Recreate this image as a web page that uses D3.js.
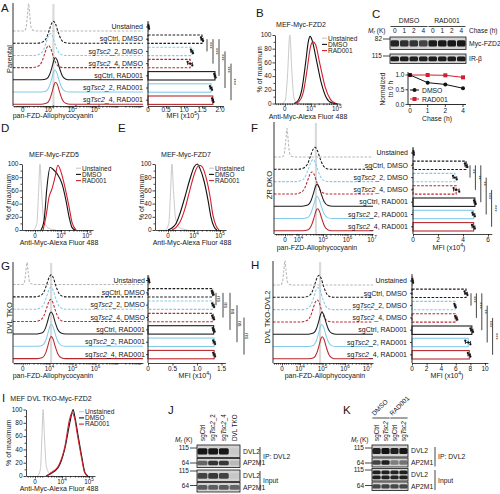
<!DOCTYPE html>
<html><head><meta charset="utf-8">
<script src="https://cdn.jsdelivr.net/npm/d3@7/dist/d3.min.js"></script>
<style>html,body{margin:0;padding:0;background:#fff}svg{display:block}</style>
</head><body><script>
// ================= DATA =================
const rowLabels=["Unstained","sgCtrl, DMSO","sgTsc2_2, DMSO","sgTsc2_4, DMSO","sgCtrl, RAD001","sgTsc2_2, RAD001","sgTsc2_4, RAD001"];
const legendLabels=["Unstained","DMSO","RAD001"];

// stacked flow histograms: [display position (decades), fraction of row peak]
const histA=[
 [[2.90,0],[2.98,0.12],[3.04,0.58],[3.09,1],[3.14,0.58],[3.20,0.12],[3.30,0.02],[3.45,0]],
 [[3.47,0],[3.71,0.06],[3.87,0.25],[3.99,0.6],[4.09,0.9],[4.17,1],[4.26,0.88],[4.37,0.52],[4.50,0.18],[4.66,0.03],[4.83,0]],
 [[3.34,0],[3.58,0.06],[3.74,0.25],[3.86,0.6],[3.96,0.9],[4.04,1],[4.13,0.88],[4.24,0.52],[4.37,0.18],[4.53,0.03],[4.70,0]],
 [[3.26,0],[3.50,0.06],[3.66,0.25],[3.78,0.6],[3.88,0.9],[3.96,1],[4.05,0.88],[4.16,0.52],[4.29,0.18],[4.45,0.03],[4.62,0]],
 [[3.65,0],[3.88,0.05],[4.01,0.25],[4.12,0.62],[4.20,0.92],[4.26,1],[4.33,0.9],[4.43,0.55],[4.55,0.2],[4.69,0.04],[4.89,0]],
 [[3.63,0],[3.86,0.05],[3.99,0.25],[4.10,0.62],[4.18,0.92],[4.24,1],[4.31,0.9],[4.41,0.55],[4.53,0.2],[4.67,0.04],[4.87,0]],
 [[3.66,0],[3.89,0.05],[4.02,0.25],[4.13,0.62],[4.21,0.92],[4.27,1],[4.34,0.9],[4.44,0.55],[4.56,0.2],[4.70,0.04],[4.90,0]]
];
const histF=[
 [[3.34,0],[3.42,0.12],[3.48,0.58],[3.53,1],[3.58,0.58],[3.64,0.12],[3.74,0.02],[3.89,0]],
 [[3.97,0],[4.21,0.06],[4.37,0.25],[4.49,0.6],[4.59,0.9],[4.67,1],[4.76,0.88],[4.87,0.52],[5.00,0.18],[5.16,0.03],[5.33,0]],
 [[3.89,0],[4.13,0.06],[4.29,0.25],[4.41,0.6],[4.51,0.9],[4.59,1],[4.68,0.88],[4.79,0.52],[4.92,0.18],[5.08,0.03],[5.25,0]],
 [[3.85,0],[4.09,0.06],[4.25,0.25],[4.37,0.6],[4.47,0.9],[4.55,1],[4.64,0.88],[4.75,0.52],[4.88,0.18],[5.04,0.03],[5.21,0]],
 [[4.15,0],[4.38,0.05],[4.51,0.25],[4.62,0.62],[4.70,0.92],[4.76,1],[4.83,0.9],[4.93,0.55],[5.05,0.2],[5.19,0.04],[5.39,0]],
 [[4.15,0],[4.38,0.05],[4.51,0.25],[4.62,0.62],[4.70,0.92],[4.76,1],[4.83,0.9],[4.93,0.55],[5.05,0.2],[5.19,0.04],[5.39,0]],
 [[4.17,0],[4.40,0.05],[4.53,0.25],[4.64,0.62],[4.72,0.92],[4.78,1],[4.85,0.9],[4.95,0.55],[5.07,0.2],[5.21,0.04],[5.41,0]]
];
const histG=[
 [[2.83,0],[2.91,0.12],[2.97,0.58],[3.02,1],[3.07,0.58],[3.13,0.12],[3.23,0.02],[3.38,0]],
 [[3.37,0],[3.61,0.06],[3.77,0.25],[3.89,0.6],[3.99,0.9],[4.07,1],[4.16,0.88],[4.27,0.52],[4.40,0.18],[4.56,0.03],[4.73,0]],
 [[3.36,0],[3.60,0.06],[3.76,0.25],[3.88,0.6],[3.98,0.9],[4.06,1],[4.15,0.88],[4.26,0.52],[4.39,0.18],[4.55,0.03],[4.72,0]],
 [[3.35,0],[3.59,0.06],[3.75,0.25],[3.87,0.6],[3.97,0.9],[4.05,1],[4.14,0.88],[4.25,0.52],[4.38,0.18],[4.54,0.03],[4.71,0]],
 [[3.46,0],[3.69,0.05],[3.82,0.25],[3.93,0.62],[4.01,0.92],[4.07,1],[4.14,0.9],[4.24,0.55],[4.36,0.2],[4.50,0.04],[4.70,0]],
 [[3.47,0],[3.70,0.05],[3.83,0.25],[3.94,0.62],[4.02,0.92],[4.08,1],[4.15,0.9],[4.25,0.55],[4.37,0.2],[4.51,0.04],[4.71,0]],
 [[3.47,0],[3.70,0.05],[3.83,0.25],[3.94,0.62],[4.02,0.92],[4.08,1],[4.15,0.9],[4.25,0.55],[4.37,0.2],[4.51,0.04],[4.71,0]]
];
const histH=[
 [[3.14,0],[3.22,0.12],[3.28,0.58],[3.33,1],[3.38,0.58],[3.44,0.12],[3.54,0.02],[3.69,0]],
 [[4.14,0],[4.38,0.06],[4.54,0.25],[4.66,0.6],[4.76,0.9],[4.84,1],[4.93,0.88],[5.04,0.52],[5.17,0.18],[5.33,0.03],[5.50,0]],
 [[4.10,0],[4.34,0.06],[4.50,0.25],[4.62,0.6],[4.72,0.9],[4.80,1],[4.89,0.88],[5.00,0.52],[5.13,0.18],[5.29,0.03],[5.46,0]],
 [[4.06,0],[4.30,0.06],[4.46,0.25],[4.58,0.6],[4.68,0.9],[4.76,1],[4.85,0.88],[4.96,0.52],[5.09,0.18],[5.25,0.03],[5.42,0]],
 [[4.37,0],[4.60,0.05],[4.73,0.25],[4.84,0.62],[4.92,0.92],[4.98,1],[5.05,0.9],[5.15,0.55],[5.27,0.2],[5.41,0.04],[5.61,0]],
 [[4.36,0],[4.59,0.05],[4.72,0.25],[4.83,0.62],[4.91,0.92],[4.97,1],[5.04,0.9],[5.14,0.55],[5.26,0.2],[5.40,0.04],[5.60,0]],
 [[4.38,0],[4.61,0.05],[4.74,0.25],[4.85,0.62],[4.93,0.92],[4.99,1],[5.06,0.9],[5.16,0.55],[5.28,0.2],[5.42,0.04],[5.62,0]]
];
const refPeakA=4.17, refPeakF=4.71, refPeakG=4.07, refPeakH=4.89;

// overlay histograms (% of maximum)
const ovB=[
 [[2.90,0],[3.02,5],[3.10,40],[3.19,100],[3.27,45],[3.35,8],[3.45,1],[3.60,0]],
 [[3.35,0],[3.50,4],[3.65,20],[3.80,60],[3.90,90],[3.97,98],[4.05,92],[4.20,66],[4.40,30],[4.60,8],[4.80,1],[5.00,0]],
 [[3.40,0],[3.55,3],[3.70,15],[3.85,48],[3.98,82],[4.08,90],[4.18,86],[4.35,57],[4.55,24],[4.75,6],[4.95,0]]
];
const ovD=[
 [[2.95,0],[3.07,10],[3.14,60],[3.19,100],[3.25,60],[3.33,18],[3.45,5],[3.65,1],[3.80,0]],
 [[3.23,0],[3.35,15],[3.46,65],[3.58,95],[3.69,92],[3.85,85],[4.04,70],[4.19,45],[4.31,20],[4.42,4],[4.54,0]],
 [[3.31,0],[3.42,20],[3.54,50],[3.65,62],[3.77,80],[3.88,98],[4.00,88],[4.15,65],[4.31,35],[4.42,12],[4.58,0]]
];
const ovE=[
 [[2.91,0],[3.03,10],[3.10,60],[3.15,100],[3.21,60],[3.29,18],[3.41,5],[3.60,1],[3.75,0]],
 [[3.00,0],[3.15,3],[3.31,10],[3.46,25],[3.65,50],[3.85,78],[4.00,95],[4.12,100],[4.23,93],[4.38,75],[4.54,45],[4.65,20],[4.77,5],[4.88,0]],
 [[3.15,0],[3.31,4],[3.46,12],[3.65,32],[3.85,62],[4.04,88],[4.19,98],[4.31,96],[4.46,80],[4.62,50],[4.73,22],[4.85,6],[4.96,0]]
];
const ovI=[
 [[3.10,0],[3.20,10],[3.26,60],[3.30,100],[3.35,60],[3.42,15],[3.55,3],[3.70,0]],
 [[3.41,0],[3.56,3],[3.85,12],[4.11,42],[4.30,82],[4.41,100],[4.48,88],[4.59,62],[4.74,27],[4.85,5],[4.96,0]],
 [[3.41,0],[3.56,4],[3.85,14],[4.11,45],[4.28,85],[4.37,95],[4.46,88],[4.57,62],[4.72,28],[4.83,6],[4.95,0]]
];

// flow axis tick labels
const flowTicksA=[{u:2.83,t:"0"},{u:4,t:"10",e:"4"},{u:5,t:"10",e:"5"},{u:6,t:"10",e:"6"}];
const flowTicksF=[{u:3.45,t:"0"},{u:4,t:"10",e:"4"},{u:5,t:"10",e:"5"},{u:6,t:"10",e:"6"},{u:7,t:"10",e:"7"}];
const flowTicksH=[{u:3.2,t:"0"},{u:4,t:"10",e:"4"},{u:5,t:"10",e:"5"},{u:6,t:"10",e:"6"},{u:7,t:"10",e:"7"}];
const flowTicksOv=[{u:3.0,t:"0"},{u:4,t:"10",e:"4"},{u:5,t:"10",e:"5"}];
const pctTicks=[0,20,40,60,80,100];

// MFI bar charts
const barA=[0.02,1.50,1.22,1.17,1.86,1.75,1.80];
const repA=[[0.01,0.02,0.03],[1.47,1.50,1.53],[1.19,1.22,1.25],[1.10,1.17,1.23],[1.84,1.86,1.88],[1.72,1.75,1.78],[1.78,1.80,1.82]];
const barF=[0.05,4.25,3.35,3.45,4.95,4.85,4.85];
const repF=[[0.03,0.05,0.07],[4.15,4.25,4.35],[3.2,3.35,3.5],[3.25,3.45,3.7],[4.88,4.95,5.02],[4.75,4.85,4.95],[4.72,4.85,4.95]];
const barG=[0.02,1.32,1.33,1.33,1.34,1.35,1.35];
const repG=[[0.01,0.02,0.03],[1.30,1.32,1.34],[1.31,1.33,1.35],[1.31,1.33,1.35],[1.32,1.34,1.36],[1.33,1.35,1.37],[1.33,1.35,1.37]];
const barH=[0.1,7.4,5.9,6.05,8.2,7.7,7.85];
const repH=[[0.05,0.1,0.15],[7.2,7.4,7.6],[5.8,5.9,6.0],[5.9,6.05,6.2],[8.0,8.2,8.35],[7.3,7.7,8.0],[7.65,7.85,8.0]];
const mfiTicksA=[0,0.5,1.0,1.5,2.0], mfiTicksF=[0,2,4,6], mfiTicksG=[0,0.5,1.0,1.5], mfiTicksH=[0,2,4,6,8,10];
const sigPairs=[[1,2],[1,3],[1,4],[2,5],[3,6]];
const sigA=["***","***","***","***","***"];
const sigF=["**","**","**","***","***"];
const sigG=["ns","ns","ns","ns","ns"];
const sigH=["***","***","**","***","***"];

// C: chase
const chaseTimes=["0","1","2","4"];
const normDMSO=[1.0,0.74,0.68,0.55];
const normRAD=[1.0,1.0,0.99,0.92];
const normTicks=[0,0.5,1.0];
const laneC=["0","1","2","4","0","1","2","4"];
const blotC=[[0.88,0.82,0.8,0.72,0.92,0.93,0.94,0.94],[0.92,0.92,0.9,0.9,0.92,0.92,0.92,0.92]];
const blotCLabels=["Myc-FZD2","IR-\u03b2"], mwC=["82","115"];

// J, K: co-IP blots
const laneJ=["sgCtrl","sgTsc2_2","sgTsc2_4","DVL TKO"];
const blotJ=[[0.95,0.95,0.95,0.04],[0.55,0.8,0.78,0.12],[0.72,0.78,0.72,0.05],[0.6,0.58,0.6,0.55]];
const laneK=["sgCtrl","sgTsc2","sgCtrl","sgTsc2"];
const blotK=[[0.9,0.97,0.9,0.95],[0.72,0.9,0.42,0.48],[0.9,0.9,0.88,0.9],[0.7,0.72,0.7,0.7]];
const stripLabels=["DVL2","AP2M1","DVL2","AP2M1"], mwJK=["115","64","115","64"];

// ================= DRAWING =================
const FONT="'Liberation Sans', Arial, Helvetica, sans-serif";
const INK="#161616";
const rowColor=["#b8b8b8","#1c1c1c","#84cbea","#b9282e","#1c1c1c","#84cbea","#b9282e"];
const rowDash=[true,true,true,true,false,false,false];
const ovColor=["#c9c9c9","#111","#d0202f"];

const svg=d3.select("body").append("svg").attr("width",500).attr("height",494).attr("font-family",FONT);
svg.append("rect").attr("width",500).attr("height",494).attr("fill","#fff");
svg.append("defs").append("filter").attr("id","bl").attr("x","-30%").attr("y","-80%").attr("width","160%").attr("height","260%")
  .append("feGaussianBlur").attr("stdDeviation",0.6);

function T(g,x,y,s,o={}){
  const t=g.append("text").attr("x",x).attr("y",y).attr("font-size",o.size||7).attr("fill",o.fill||INK).attr("text-anchor",o.anchor||"start");
  if(o.rot!=null) t.attr("transform",`rotate(${o.rot},${x},${y})`);
  if(o.italic) t.attr("font-style","italic");
  if(s!=null) t.text(s);
  return t;
}
function rich(t,s){ s.split(/(Tsc2)/).forEach(p=>{ if(!p) return; const ts=t.append("tspan").text(p); if(p==="Tsc2") ts.attr("font-style","italic"); }); return t; }
function sup(t,parts,fs){ let up=false; parts.forEach(([s,isSup])=>{ const ts=t.append("tspan").text(s);
  if(isSup){ ts.attr("font-size",fs*0.72); if(!up){ts.attr("dy",-fs*0.42); up=true;} } else if(up){ ts.attr("dy",fs*0.42); up=false; } }); return t; }
function letter(x,y,s){ T(svg,x,y,s,{size:11.5}); }
function styleAxis(a){ a.selectAll("path,line").attr("stroke",INK).attr("stroke-width",0.8); a.selectAll("text").remove(); }

function flowXAxis(g,x,y0,ticks,tlY){
  const [uL,uR]=x.domain(); const u0=ticks[0].u; const minor=[];
  [-0.36,-0.27,-0.18,-0.09,0.09,0.18,0.27].forEach(o=>{const u=u0+o; if(u>uL&&u<uR) minor.push(u);});
  for(let d=3;d<=7;d++) for(let k=2;k<=9;k++){const u=d+Math.log10(k); if(u>u0+0.4&&u<uR) minor.push(u);}
  const a1=g.append("g").attr("transform",`translate(0,${y0})`).call(d3.axisBottom(x).tickValues(ticks.map(t=>t.u)).tickSize(2.5).tickSizeOuter(0).tickFormat(""));
  const a2=g.append("g").attr("transform",`translate(0,${y0})`).call(d3.axisBottom(x).tickValues(minor).tickSize(1.6).tickSizeOuter(0).tickFormat(""));
  a2.select(".domain").remove(); styleAxis(a1); styleAxis(a2);
  ticks.forEach(t=>{ const tx=T(g,x(t.u),tlY,null,{anchor:"middle",size:6.3}); if(t.e) sup(tx,[[t.t,0],[t.e,1]],6.3); else tx.text(t.t); });
}

function stackedHist(c){
  const g=svg.append("g");
  const x=d3.scaleLinear().domain([c.uL,c.uR]).range([c.xL,c.xR]);
  g.append("line").attr("x1",x(c.gray)).attr("x2",x(c.gray)).attr("y1",c.top+1).attr("y2",c.axisY).attr("stroke","#dadada").attr("stroke-width",2.2);
  c.traces.forEach((pts,i)=>{
    const base=c.bases[i], hpx=c.peakPx*(i===0?c.unsH:1);
    const y=d3.scaleLinear().domain([0,1]).range([base,base-hpx]);
    const ln=d3.line().x(d=>x(d[0])).y(d=>y(d[1])).curve(d3.curveMonotoneX);
    g.append("path").attr("d",ln([[c.uL,0],...pts,[c.uR,0]])).attr("fill","none").attr("stroke",rowColor[i])
      .attr("stroke-width",1.05).attr("stroke-dasharray",rowDash[i]?"2.6,1.5":null);
  });
  rowLabels.forEach((l,i)=>rich(T(g,c.labelX,c.bases[i]-1.8,null,{anchor:"end",size:7}),l));
  g.append("line").attr("x1",c.xL).attr("x2",c.xL).attr("y1",c.top).attr("y2",c.axisY).attr("stroke",INK).attr("stroke-width",0.9);
  flowXAxis(g,x,c.axisY,c.ticks,c.tlY);
  T(g,c.titleX,c.titleY,"pan-FZD-Allophycocyanin",{anchor:"middle",size:7});
  T(g,c.ylX,c.ylY,c.ylab,{anchor:"middle",size:7.5,rot:-90});
}

function barChart(c){
  const g=svg.append("g");
  const x=d3.scaleLinear().domain([0,c.dmax]).range([c.x0,c.x1]);
  const cy=c.bases.map(b=>b-4);
  c.vals.forEach((v,i)=>{
    g.append("rect").attr("x",x(0)).attr("y",cy[i]-4.2).attr("width",Math.max(0,x(v)-x(0))).attr("height",8.4)
      .attr("fill","#fff").attr("stroke",rowColor[i]).attr("stroke-width",1.1).attr("stroke-dasharray",rowDash[i]?"2.6,1.5":null);
    const r=c.reps[i], m=d3.mean(r), sd=d3.deviation(r);
    g.append("line").attr("x1",x(m-sd)).attr("x2",x(m+sd)).attr("y1",cy[i]).attr("y2",cy[i]).attr("stroke",INK).attr("stroke-width",0.8);
    [m-sd,m+sd].forEach(e=>g.append("line").attr("x1",x(e)).attr("x2",x(e)).attr("y1",cy[i]-1.5).attr("y2",cy[i]+1.5).attr("stroke",INK).attr("stroke-width",0.8));
    r.forEach((rv,j)=>g.append("circle").attr("cx",x(rv)).attr("cy",cy[i]+[-1.8,0,1.8][j]).attr("r",1.15).attr("fill",INK));
  });
  g.append("line").attr("x1",c.x0).attr("x2",c.x0).attr("y1",c.top).attr("y2",c.axisY).attr("stroke",INK).attr("stroke-width",0.9);
  cy.forEach(yy=>g.append("line").attr("x1",c.x0-2).attr("x2",c.x0).attr("y1",yy).attr("y2",yy).attr("stroke",INK).attr("stroke-width",0.8));
  const ax=g.append("g").attr("transform",`translate(0,${c.axisY})`).call(d3.axisBottom(x).tickValues(c.ticks).tickSize(2.5).tickSizeOuter(0));
  styleAxis(ax);
  c.ticks.forEach(t=>T(g,x(t),c.tlY,t===0?"0":c.fmt(t),{anchor:"middle",size:6.5}));
  sup(T(g,c.titleX,c.titleY,null,{anchor:"middle",size:7}),[["MFI (x10",0],[c.exp,1],[")",0]],7);
  sigPairs.forEach(([a,b],k)=>{
    const xx=c.sigX0+k*c.sigStep;
    g.append("line").attr("x1",xx).attr("x2",xx).attr("y1",cy[a]).attr("y2",cy[b]).attr("stroke",INK).attr("stroke-width",0.8);
    T(g,xx+1.2,(cy[a]+cy[b])/2,c.sig[k],{anchor:"middle",size:5.6,rot:90});
  });
}

function overlay(c){
  const g=svg.append("g");
  const x=d3.scaleLinear().domain([c.uL,c.uR]).range([c.xL,c.xR]);
  const y=d3.scaleLinear().domain([0,100]).range([c.y0,c.y100]);
  const ln=d3.line().x(d=>x(d[0])).y(d=>y(d[1])).curve(d3.curveMonotoneX);
  c.curves.forEach((pts,i)=>g.append("path").attr("d",ln(pts)).attr("fill","none").attr("stroke",ovColor[i]).attr("stroke-width",i===0?1:1.1));
  const ay=g.append("g").attr("transform",`translate(${c.xL},0)`).call(d3.axisLeft(y).tickValues(pctTicks).tickSize(2.5).tickSizeOuter(0));
  styleAxis(ay);
  const ay2=g.append("g").attr("transform",`translate(${c.xL},0)`).call(d3.axisLeft(y).tickValues([10,30,50,70,90]).tickSize(1.5).tickSizeOuter(0));
  ay2.select(".domain").remove(); styleAxis(ay2);
  pctTicks.forEach(t=>T(g,c.xL-3.5,y(t)+2.3,String(t),{anchor:"end",size:6.5}));
  flowXAxis(g,x,c.y0,flowTicksOv,c.y0+7.5);
  T(g,c.titleX,c.titleY,c.title,{anchor:"middle",size:7});
  T(g,c.xlX,c.y0+15,"Anti-Myc-Alexa Fluor 488",{anchor:"middle",size:7});
  T(g,c.ylX,(c.y0+c.y100)/2,"% of maximum",{anchor:"middle",size:7,rot:-90});
  legendLabels.forEach((l,i)=>{
    const yy=c.legY+i*6.2;
    g.append("line").attr("x1",c.legX).attr("x2",c.legX+5).attr("y1",yy-2.3).attr("y2",yy-2.3).attr("stroke",ovColor[i]).attr("stroke-width",1.1);
    T(g,c.legX+6,yy,l,{size:6.5});
  });
}

function blotStrip(g,xb,y0,y1,vals,dbl){
  const [x0,x1]=xb.range();
  g.append("rect").attr("x",x0).attr("y",y0).attr("width",x1-x0).attr("height",y1-y0).attr("fill","#d2d2d2").attr("stroke",INK).attr("stroke-width",0.8);
  const hh=y1-y0, offs=dbl?[-0.2,0.2]:[0], bh=dbl?hh*0.3:hh*0.5;
  vals.forEach((v,i)=>offs.forEach(o=>{
    g.append("rect").attr("x",xb(i)).attr("width",xb.bandwidth()).attr("y",(y0+y1)/2+o*hh-bh/2).attr("height",bh)
      .attr("rx",1.5).attr("fill","#0c0c0c").attr("opacity",v).attr("filter","url(#bl)");
  }));
}
function mrLabel(g,x,y){ const t=T(g,x,y,null,{size:6.5});
  t.append("tspan").attr("font-style","italic").text("M");
  t.append("tspan").attr("font-style","italic").attr("font-size",4.8).attr("dy",1.4).text("r");
  t.append("tspan").attr("dy",-1.4).text(" (K)"); }
function mwMark(g,xr,y,s){ T(g,xr-2,y+2.2,s,{anchor:"end",size:6.5}); g.append("line").attr("x1",xr-1).attr("x2",xr+6).attr("y1",y).attr("y2",y).attr("stroke",INK).attr("stroke-width",0.8); }

// ---------- Panel A ----------
letter(1,12,"A");
const basesA=d3.range(7).map(i=>31+i*12.2);
stackedHist({traces:histA,xL:13,xR:143,uL:2.41,uR:8.07,top:3,axisY:106,bases:basesA,peakPx:22,unsH:1.25,gray:refPeakA,
  labelX:143,ticks:flowTicksA,tlY:112,titleX:53,titleY:117.5,ylab:"Parental",ylX:12,ylY:59});
barChart({vals:barA,reps:repA,x0:148,x1:148+2.1*36,dmax:2.1,bases:basesA,top:21,axisY:106,ticks:mfiTicksA,fmt:d3.format(".1f"),tlY:112,
  titleX:183,titleY:117.5,exp:"5",sig:sigA,sigX0:207,sigStep:6});

// ---------- Panel B ----------
letter(256,17,"B");
overlay({curves:ovB,xL:275,xR:340,uL:2.62,uR:5.12,y0:103.5,y100:35,title:"MEF-Myc-FZD2",titleX:301,titleY:27,xlX:308,ylX:262,legX:322,legY:40.5});

// ---------- Panel C ----------
letter(372,18,"C");
(function(){
  const g=svg.append("g");
  const xb=d3.scaleBand().domain(d3.range(8)).range([390,466]).paddingInner(0.1).paddingOuter(0.05);
  const cx=i=>xb(i)+xb.bandwidth()/2;
  laneC.forEach((l,i)=>T(g,cx(i),33,l,{anchor:"middle",size:6.5}));
  [["DMSO",0,3],["RAD001",4,7]].forEach(([s,a,b])=>{
    T(g,(cx(a)+cx(b))/2,23,s,{anchor:"middle",size:6.8});
    g.append("line").attr("x1",xb(a)).attr("x2",xb(b)+xb.bandwidth()).attr("y1",26.5).attr("y2",26.5).attr("stroke",INK).attr("stroke-width",0.8);
  });
  T(g,469,33,"Chase (h)",{size:6.5});
  mrLabel(g,368,33);
  const strips=[[37,49.5],[54,63.5]];
  blotC.forEach((v,k)=>{ blotStrip(g,xb,strips[k][0],strips[k][1],v,false);
    T(g,469,(strips[k][0]+strips[k][1])/2+2.3,blotCLabels[k],{size:6.8});
    mwMark(g,384,[39,56][k],mwC[k]); });
  const x=d3.scalePoint().domain(chaseTimes).range([410,463]);
  const y=d3.scaleLinear().domain([0,1]).range([104.5,75]);
  g.append("line").attr("x1",408).attr("x2",408).attr("y1",72).attr("y2",104.5).attr("stroke",INK).attr("stroke-width",0.9);
  g.append("line").attr("x1",408).attr("x2",466).attr("y1",104.5).attr("y2",104.5).attr("stroke",INK).attr("stroke-width",0.9);
  normTicks.forEach(t=>{ g.append("line").attr("x1",405.5).attr("x2",408).attr("y1",y(t)).attr("y2",y(t)).attr("stroke",INK).attr("stroke-width",0.8);
    T(g,404.5,y(t)+2.3,d3.format(".1f")(t),{anchor:"end",size:6.5}); });
  chaseTimes.forEach(t=>{ g.append("line").attr("x1",x(t)).attr("x2",x(t)).attr("y1",104.5).attr("y2",107).attr("stroke",INK).attr("stroke-width",0.8);
    T(g,x(t),113,t,{anchor:"middle",size:6.5}); });
  T(g,437,120.5,"Chase (h)",{anchor:"middle",size:6.8});
  T(g,385,89,"Normalized",{anchor:"middle",size:6.5,rot:-90});
  T(g,392.5,89,"to 0 h",{anchor:"middle",size:6.5,rot:-90});
  const ln=d3.line().x((d,i)=>x(chaseTimes[i])).y(d=>y(d));
  g.append("path").attr("d",ln(normRAD)).attr("fill","none").attr("stroke","#d0202f").attr("stroke-width",1);
  g.append("path").attr("d",ln(normDMSO)).attr("fill","none").attr("stroke","#111").attr("stroke-width",1);
  normRAD.forEach((v,i)=>g.append("rect").attr("x",x(chaseTimes[i])-2).attr("y",y(v)-2).attr("width",4).attr("height",4).attr("fill","#d0202f"));
  normDMSO.forEach((v,i)=>g.append("circle").attr("cx",x(chaseTimes[i])).attr("cy",y(v)).attr("r",2).attr("fill","#111"));
  g.append("line").attr("x1",410).attr("x2",419).attr("y1",90).attr("y2",90).attr("stroke","#111").attr("stroke-width",1);
  g.append("circle").attr("cx",414.5).attr("cy",90).attr("r",2).attr("fill","#111");
  T(g,422,92.5,"DMSO",{size:6.8});
  g.append("line").attr("x1",410).attr("x2",419).attr("y1",99).attr("y2",99).attr("stroke","#d0202f").attr("stroke-width",1);
  g.append("rect").attr("x",412.5).attr("y",97).attr("width",4).attr("height",4).attr("fill","#d0202f");
  T(g,422,101.5,"RAD001",{size:6.8});
})();

// ---------- Panels D, E ----------
letter(1,132,"D"); letter(118,132,"E");
overlay({curves:ovD,xL:22,xR:93,uL:2.5,uR:5.23,y0:230,y100:164,title:"MEF-Myc-FZD5",titleX:54,titleY:157,xlX:59,ylX:10.5,legX:76,legY:170.5});
overlay({curves:ovE,xL:155,xR:226,uL:2.5,uR:5.23,y0:230,y100:164,title:"MEF-Myc-FZD7",titleX:186,titleY:157,xlX:192,ylX:143.5,legX:209,legY:170.5});

// ---------- Panel F ----------
letter(251,132,"F");
const basesF=d3.range(7).map(i=>157+i*12.3);
stackedHist({traces:histF,xL:274,xR:373,uL:3.0,uR:7.04,top:122,axisY:234,bases:basesF,peakPx:22,unsH:1.3,gray:refPeakF,
  labelX:408,ticks:flowTicksF,tlY:241.5,titleX:317,titleY:249.5,ylab:"ZR DKO",ylX:271.5,ylY:185});
barChart({vals:barF,reps:repF,x0:413,x1:413+6.3*12.5,dmax:6.3,bases:basesF,top:147,axisY:234,ticks:mfiTicksF,fmt:d3.format("d"),tlY:241.5,
  titleX:449,titleY:249.5,exp:"4",sig:sigF,sigX0:470,sigStep:5.4});

// ---------- Panel G ----------
letter(1,270,"G");
const basesG=d3.range(7).map(i=>284.5+i*12.35);
stackedHist({traces:histG,xL:13,xR:143,uL:2.41,uR:8.07,top:262,axisY:363,bases:basesG,peakPx:22,unsH:1.0,gray:refPeakG,
  labelX:145,ticks:flowTicksA,tlY:370.5,titleX:53,titleY:378,ylab:"DVL TKO",ylX:12,ylY:318});
barChart({vals:barG,reps:repG,x0:148,x1:148+1.58*49,dmax:1.58,bases:basesG,top:275,axisY:363,ticks:mfiTicksG,fmt:d3.format(".1f"),tlY:370.5,
  titleX:195,titleY:378,exp:"4",sig:sigG,sigX0:216,sigStep:7});

// ---------- Panel H ----------
letter(251,269,"H");
const basesH=d3.range(7).map(i=>285+i*12.3);
stackedHist({traces:histH,xL:273,xR:373,uL:2.8,uR:7.24,top:261,axisY:363,bases:basesH,peakPx:22,unsH:1.12,gray:refPeakH,
  labelX:407,ticks:flowTicksH,tlY:370.5,titleX:325,titleY:378,ylab:"DVL TKO-DVL2",ylX:270,ylY:317});
barChart({vals:barH,reps:repH,x0:412,x1:412+10.4*7.3,dmax:10.4,bases:basesH,top:274,axisY:363,ticks:mfiTicksH,fmt:d3.format("d"),tlY:370.5,
  titleX:447,titleY:378,exp:"4",sig:sigH,sigX0:471,sigStep:5.4});

// ---------- Panel I ----------
letter(2,402,"I");
overlay({curves:ovI,xL:26,xR:95,uL:2.67,uR:5.22,y0:476,y100:409.5,title:"MEF DVL TKO-Myc-FZD2",titleX:51,titleY:401,xlX:59,ylX:11,legX:79,legY:414});

// ---------- Panel J ----------
letter(168,414,"J");
(function(){
  const g=svg.append("g");
  const xb=d3.scaleBand().domain(d3.range(4)).range([197,240]).paddingInner(0.08).paddingOuter(0.05);
  const strips=[[445,457.5],[458.5,467.5],[470,481.5],[482.5,492]];
  laneJ.forEach((l,i)=>rich(T(g,xb(i)+xb.bandwidth()/2+2.3,441,null,{size:6.3,rot:-90}),l));
  mrLabel(g,175,441.5);
  blotJ.forEach((v,k)=>{ blotStrip(g,xb,strips[k][0],strips[k][1],v,false);
    T(g,243,(strips[k][0]+strips[k][1])/2+2.3,stripLabels[k],{size:6.8}); });
  [448,463,471,485.5].forEach((yy,k)=>mwMark(g,191,yy,mwJK[k]));
  g.append("line").attr("x1",260).attr("x2",260).attr("y1",447).attr("y2",466.5).attr("stroke",INK).attr("stroke-width",0.8);
  T(g,263,459,"IP: DVL2",{size:6.8});
  g.append("line").attr("x1",260).attr("x2",260).attr("y1",471).attr("y2",491).attr("stroke",INK).attr("stroke-width",0.8);
  T(g,263,483,"Input",{size:6.8});
})();

// ---------- Panel K ----------
letter(343,414,"K");
(function(){
  const g=svg.append("g");
  const xb=d3.scaleBand().domain(d3.range(4)).range([372,408]).paddingInner(0.08).paddingOuter(0.05);
  const strips=[[445,457],[458,467],[468.5,481],[482,490.5]];
  laneK.forEach((l,i)=>rich(T(g,xb(i)+xb.bandwidth()/2+2.3,441,null,{size:6.3,rot:-90}),l));
  [["DMSO",0,1],["RAD001",2,3]].forEach(([s,a,b])=>{
    g.append("line").attr("x1",xb(a)).attr("x2",xb(b)+xb.bandwidth()).attr("y1",418).attr("y2",418).attr("stroke",INK).attr("stroke-width",0.8);
    T(g,xb(a)+2,416,s,{size:6.5,rot:-45});
  });
  mrLabel(g,351,441.5);
  blotK.forEach((v,k)=>{ blotStrip(g,xb,strips[k][0],strips[k][1],v,k===2);
    T(g,411,(strips[k][0]+strips[k][1])/2+2.3,stripLabels[k],{size:6.8}); });
  [448,463,470,485.5].forEach((yy,k)=>mwMark(g,366,yy,mwJK[k]));
  g.append("line").attr("x1",435).attr("x2",435).attr("y1",447).attr("y2",466.5).attr("stroke",INK).attr("stroke-width",0.8);
  T(g,438,459,"IP: DVL2",{size:6.8});
  g.append("line").attr("x1",435).attr("x2",435).attr("y1",470).attr("y2",490).attr("stroke",INK).attr("stroke-width",0.8);
  T(g,438,482.5,"Input",{size:6.8});
})();
</script></body></html>
